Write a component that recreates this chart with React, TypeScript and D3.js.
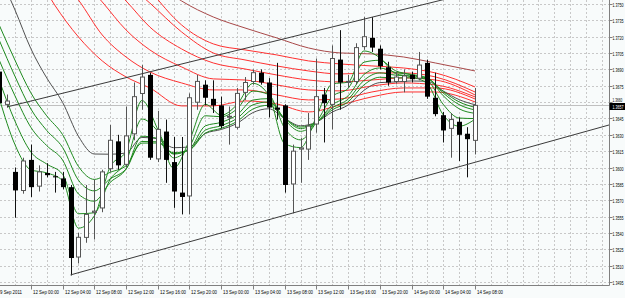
import React from 'react';
import * as d3 from 'd3';

// ---------- data ----------
const barIndex = d3.range(-2, 59); // hourly bars, 0 = 11 Sep 22:00
const openP = [1.3688,1.3657,1.3596,1.3578,1.3607,1.3582,1.3595,1.3592,1.3590,1.3582,1.3517,1.3535,1.3558,1.3562,1.3598,1.3624,1.3602,1.3630,1.3667,1.3685,1.3607,1.3633,1.3605,1.3577,1.3573,1.3659,1.3676,1.3663,1.3657,1.3646,1.3636,1.3668,1.3678,1.3687,1.3678,1.3655,1.3657,1.3584,1.3616,1.3616,1.3639,1.3667,1.3657,1.3699,1.3678,1.3678,1.3710,1.3719,1.3709,1.3692,1.3678,1.3678,1.3685,1.3681,1.3696,1.3664,1.3648,1.3635,1.3642,1.3631,1.3624];
const highP = [1.3691,1.3667,1.3600,1.3609,1.3621,1.3602,1.3604,1.3596,1.3596,1.3584,1.3540,1.3584,1.3589,1.3598,1.3639,1.3630,1.3656,1.3678,1.3694,1.3687,1.3652,1.3644,1.3628,1.3628,1.3668,1.3685,1.3680,1.3680,1.3665,1.3656,1.3673,1.3683,1.3690,1.3690,1.3682,1.3696,1.3658,1.3621,1.3627,1.3650,1.3700,1.3673,1.3712,1.3726,1.3685,1.3714,1.3738,1.3738,1.3712,1.3697,1.3688,1.3690,1.3688,1.3706,1.3699,1.3687,1.3651,1.3650,1.3646,1.3637,1.3673];
const lowP = [1.3656,1.3655,1.3554,1.3576,1.3573,1.3578,1.3591,1.3577,1.3580,1.3501,1.3512,1.3531,1.3534,1.3559,1.3596,1.3598,1.3600,1.3625,1.3653,1.3607,1.3605,1.3586,1.3563,1.3557,1.3557,1.3653,1.3657,1.3650,1.3636,1.3621,1.3635,1.3662,1.3676,1.3676,1.3646,1.3644,1.3577,1.3558,1.3586,1.3607,1.3632,1.3623,1.3635,1.3653,1.3673,1.3676,1.3708,1.3706,1.3690,1.3675,1.3677,1.3669,1.3678,1.3680,1.3663,1.3647,1.3623,1.3609,1.3606,1.3591,1.3612];
const closeP = [1.3659,1.3661,1.3579,1.3606,1.3582,1.3596,1.3593,1.3591,1.3582,1.3517,1.3536,1.3557,1.3560,1.3596,1.3625,1.3602,1.3629,1.3665,1.3683,1.3609,1.3635,1.3607,1.3578,1.3573,1.3664,1.3679,1.3664,1.3657,1.3638,1.3647,1.3668,1.3678,1.3687,1.3678,1.3655,1.3653,1.3584,1.3615,1.3618,1.3638,1.3665,1.3659,1.3700,1.3678,1.3679,1.3710,1.3720,1.3710,1.3693,1.3678,1.3683,1.3684,1.3681,1.3694,1.3665,1.3649,1.3634,1.3644,1.3630,1.3626,1.3657];

// short moving averages, read every second bar
const greenBars = [-2,0,2,4,6,8,10,12,14,16,18,20,22,24,26,28,30,32,34,36,38,40,42,44,46,48,50,52,54,56,58];
const ema3 = [1.36638,1.36209,1.35979,1.35951,1.35880,1.35444,1.35556,1.36006,1.36152,1.36615,1.36349,1.35993,1.36250,1.36581,1.36480,1.36578,1.36772,1.36663,1.36218,1.36183,1.36465,1.36767,1.36783,1.37069,1.37007,1.36861,1.36832,1.36767,1.36482,1.36379,1.36443];
const ema5 = [1.36803,1.36425,1.36143,1.36032,1.35938,1.35576,1.35585,1.35891,1.36053,1.36445,1.36332,1.36089,1.36193,1.36475,1.36466,1.36538,1.36701,1.36669,1.36361,1.36254,1.36414,1.36650,1.36726,1.36966,1.36984,1.36887,1.36852,1.36803,1.36579,1.36454,1.36449];
const ema8 = [1.36987,1.36657,1.36369,1.36201,1.36069,1.35757,1.35691,1.35863,1.35985,1.36287,1.36266,1.36123,1.36170,1.36382,1.36415,1.36483,1.36619,1.36632,1.36438,1.36332,1.36411,1.36574,1.36658,1.36853,1.36913,1.36871,1.36853,1.36823,1.36658,1.36539,1.36497];
const ema10 = [1.37170,1.36836,1.36537,1.36340,1.36184,1.35884,1.35786,1.35896,1.35987,1.36239,1.36236,1.36128,1.36161,1.36343,1.36384,1.36451,1.36575,1.36602,1.36451,1.36357,1.36414,1.36548,1.36626,1.36800,1.36868,1.36847,1.36840,1.36820,1.36683,1.36577,1.36528];
const ema12 = [1.37308,1.36984,1.36685,1.36474,1.36302,1.36010,1.35891,1.35956,1.36016,1.36224,1.36225,1.36136,1.36161,1.36316,1.36360,1.36423,1.36537,1.36571,1.36453,1.36371,1.36416,1.36529,1.36602,1.36758,1.36828,1.36822,1.36823,1.36812,1.36697,1.36602,1.36552];
const ema15 = [1.37766,1.37445,1.37090,1.36822,1.36598,1.36287,1.36124,1.36122,1.36133,1.36276,1.36264,1.36182,1.36189,1.36312,1.36349,1.36405,1.36504,1.36539,1.36450,1.36383,1.36416,1.36509,1.36573,1.36708,1.36779,1.36785,1.36794,1.36791,1.36702,1.36623,1.36576];

// long moving averages, read at these bars
const redBars = [-2,2,5,8,11,14,17,21,25,29,33,37,41,45,49,53,58];
const ema30 = [1.38271,1.37858,1.37491,1.37198,1.36978,1.36831,1.36730,1.36565,1.36565,1.36611,1.36583,1.36510,1.36574,1.36648,1.36693,1.36693,1.36602];
const ema35 = [1.38546,1.38087,1.37794,1.37537,1.37216,1.37014,1.36877,1.36776,1.36712,1.36712,1.36666,1.36620,1.36629,1.36693,1.36730,1.36730,1.36629];
const ema40 = [1.38821,1.38362,1.38041,1.37766,1.37519,1.37262,1.37079,1.36923,1.36813,1.36803,1.36758,1.36712,1.36703,1.36748,1.36776,1.36758,1.36648];
const ema45 = [1.39096,1.38592,1.38271,1.37996,1.37739,1.37528,1.37289,1.37088,1.36959,1.36904,1.36849,1.36803,1.36785,1.36803,1.36822,1.36803,1.36666];
const ema50 = [1.39279,1.38821,1.38454,1.38179,1.37922,1.37702,1.37509,1.37244,1.37051,1.36987,1.36932,1.36886,1.36858,1.36868,1.36868,1.36831,1.36693];
const ema60 = [1.39463,1.39050,1.38729,1.38408,1.38133,1.37904,1.37629,1.37308,1.37134,1.37079,1.37033,1.36978,1.36950,1.36932,1.36913,1.36868,1.36739];
const ema200 = [1.39371,1.39004,1.38729,1.38454,1.38179,1.37950,1.37739,1.37528,1.37381,1.37280,1.37189,1.37097,1.37051,1.37042,1.37014,1.36959,1.36886];

// trend lines (bar, price)
const upperTrend: [number, number][] = [[-1, 1.36556], [53, 1.37522]];
const lowerTrend: [number, number][] = [[7, 1.35015], [58, 1.36048]];

const currentPrice = 1.3657;
const priceTicks = [1.3495,1.3510,1.3525,1.3540,1.3555,1.3570,1.3585,1.3600,1.3615,1.3630,1.3645,1.3660,1.3675,1.3690,1.3705,1.3720,1.3735,1.3750];
const timeBars = [-2,2,6,10,14,18,22,26,30,34,38,42,46,50,54,58];
const timeLabels = ["9 Sep 2011","12 Sep 00:00","12 Sep 04:00","12 Sep 08:00","12 Sep 12:00","12 Sep 16:00","12 Sep 20:00","13 Sep 00:00","13 Sep 04:00","13 Sep 08:00","13 Sep 12:00","13 Sep 16:00","13 Sep 20:00","14 Sep 00:00","14 Sep 04:00","14 Sep 08:00"];

// ---------- layout ----------
const W = 625, H = 298;
const plotR = 609.5, plotB = 285.5;
const FONT = "'Liberation Sans', Arial, sans-serif";

export default function App() {
  const x = d3.scaleLinear().domain([0, 58]).range([15, 475]);
  const y = d3.scaleLinear().domain([1.3495, 1.3750]).range([282, 4]);
  const px = (k: number) => Math.round(x(k)) + 0.5;

  const line = d3.line<[number, number]>().x(d => x(d[0])).y(d => y(d[1])).curve(d3.curveMonotoneX);
  const mk = (bs: number[], vs: number[]) => line(bs.map((b, i) => [b, vs[i]] as [number, number])) || '';

  const greens = [ema3, ema5, ema8, ema10, ema12];
  const reds = [ema30, ema35, ema40, ema45, ema50, ema60];

  const ray = (t: [number, number][]) => {
    const x1 = x(t[0][0]), y1 = y(t[0][1]);
    const x2 = x(t[1][0]), y2 = y(t[1][1]);
    const s = (y2 - y1) / (x2 - x1);
    const xe = plotR;
    return { x1, y1, x2: xe, y2: y1 + s * (xe - x1) };
  };
  const up = ray(upperTrend), lo = ray(lowerTrend);

  const vGrid = d3.range(-2, 76, 2).map(k => px(k)).filter(v => v < plotR);
  const fmt = d3.format('.4f');
  const cpY = Math.round(y(currentPrice)) + 0.5;

  return (
    <svg width={W} height={H} style={{ position: 'absolute', left: 0, top: 0, background: '#f8fbfb' }}
      fontFamily={FONT}>
      <defs>
        <clipPath id="plot"><rect x={0} y={0} width={plotR} height={plotB} /></clipPath>
      </defs>
      <rect x={0} y={0} width={W} height={H} fill="#f8fbfb" />
      <g clipPath="url(#plot)">
        {priceTicks.map(p => (
          <line key={'h' + p} x1={0} x2={plotR} y1={Math.round(y(p)) + 0.5} y2={Math.round(y(p)) + 0.5}
            stroke="#c8c8c8" strokeDasharray="2,2" />
        ))}
        {vGrid.map(v => (
          <line key={'v' + v} x1={v} x2={v} y1={0} y2={plotB} stroke="#c8c8c8" strokeDasharray="2,2" />
        ))}
        <line x1={0} x2={plotR} y1={cpY} y2={cpY} stroke="#c0c0c0" />
        <path d={mk(redBars, ema200)} fill="none" stroke="#a84848" strokeWidth={1} />
        {reds.map((r, i) => <path key={'r' + i} d={mk(redBars, r)} fill="none" stroke="#ff3030" strokeWidth={1} />)}
        <path d={mk(greenBars, ema15)} fill="none" stroke="#505050" strokeWidth={1} />
        {greens.map((g, i) => <path key={'g' + i} d={mk(greenBars, g)} fill="none" stroke="#1f8a1f" strokeWidth={1} />)}
        {barIndex.map((k, i) => {
          const c = px(k);
          const o = openP[i], cl = closeP[i];
          const bull = cl >= o;
          const yT = y(Math.max(o, cl)), yB = y(Math.min(o, cl));
          const hgt = Math.max(1, yB - yT);
          return (
            <g key={'c' + k}>
              <line x1={c} x2={c} y1={y(highP[i])} y2={y(lowP[i])} stroke={bull ? '#555' : '#111'} />
              {bull
                ? <rect x={c - 2} y={yT} width={4} height={Math.max(1, hgt - 1)} fill="#fff" stroke="#555" />
                : <rect x={c - 2.5} y={yT} width={5} height={hgt} fill="#000" />}
            </g>
          );
        })}
        <line x1={up.x1} y1={up.y1} x2={up.x2} y2={up.y2} stroke="#3a3a3a" />
        <line x1={lo.x1} y1={lo.y1} x2={lo.x2} y2={lo.y2} stroke="#3a3a3a" />
      </g>
      {/* axes */}
      <line x1={plotR} x2={plotR} y1={0} y2={plotB} stroke="#808080" />
      <line x1={0} x2={plotR} y1={plotB} y2={plotB} stroke="#808080" />
      {priceTicks.map(p => {
        const yy = Math.round(y(p)) + 0.5;
        const nearCp = Math.abs(yy - cpY) < 6;
        return (
          <g key={'pt' + p}>
            <line x1={plotR} x2={plotR + 3} y1={yy} y2={yy} stroke="#808080" />
            <text transform={`translate(612.5,${nearCp ? yy - 0.5 : yy + 2}) scale(0.66,1)`}
              fontSize={nearCp ? 4.8 : 5.5} fill="#000">{fmt(p)}</text>
          </g>
        );
      })}
      <rect x={plotR} y={cpY - 2.5} width={W - plotR} height={7} fill="#000" />
      <text transform={`translate(612.5,${cpY + 3}) scale(0.66,1)`} fontSize={5.5} fill="#fff">{fmt(currentPrice)}</text>
      {timeBars.map((b, i) => {
        const xx = px(b);
        const first = i === 0;
        return (
          <g key={'t' + b}>
            {!first && <line x1={xx} x2={xx} y1={plotB} y2={plotB + 4} stroke="#808080" />}
            <text x={first ? 0 : xx + 1.5} y={294} fontSize={5.5} fill="#000"
              textLength={first ? 22 : 26} lengthAdjust="spacingAndGlyphs">{timeLabels[i]}</text>
          </g>
        );
      })}
    </svg>
  );
}
